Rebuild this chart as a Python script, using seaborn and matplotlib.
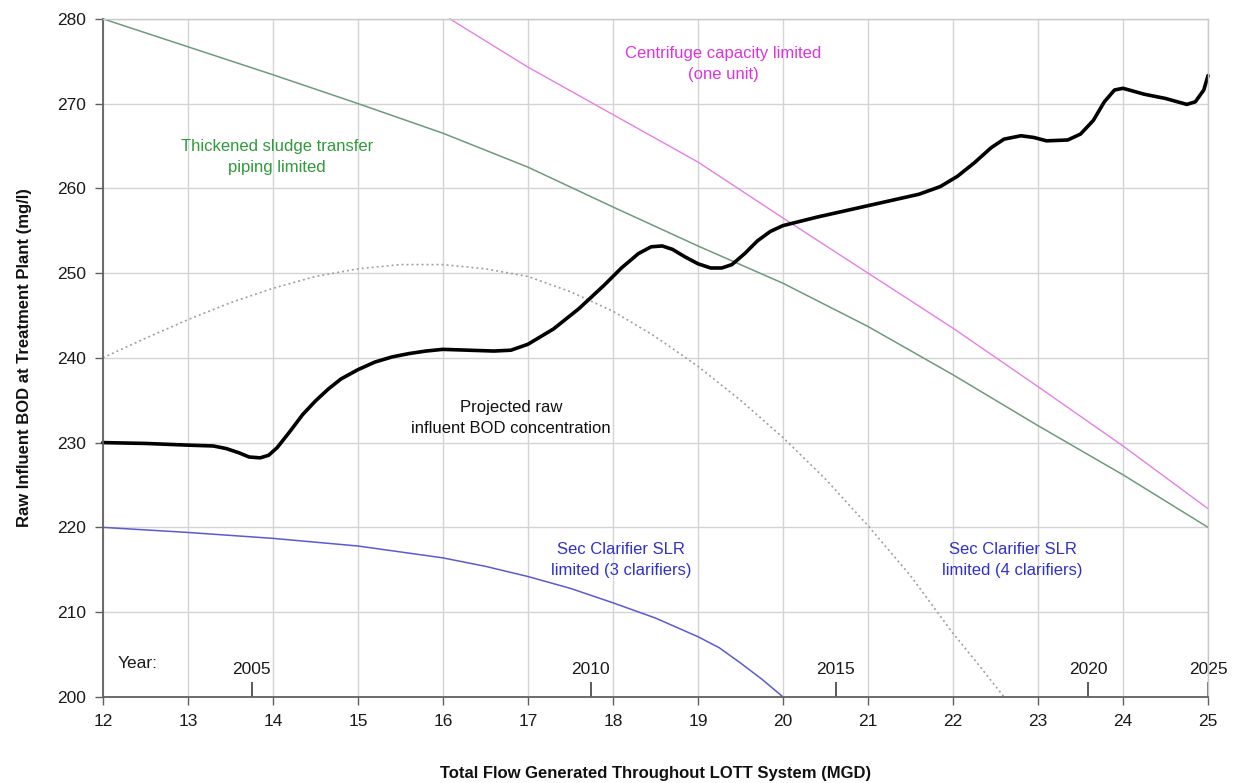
import matplotlib
matplotlib.use("Agg")
import matplotlib.pyplot as plt
import seaborn as sns
import pandas as pd

# Projected raw influent BOD concentration
bod_flow = [12.0, 12.5, 13.0, 13.3, 13.45, 13.6, 13.72, 13.85, 13.95, 14.05, 14.2, 14.35,
            14.5, 14.65, 14.8, 15.0, 15.2, 15.4, 15.6, 15.8, 16.0, 16.3, 16.6, 16.8, 17.0,
            17.3, 17.6, 17.9, 18.1, 18.3, 18.45, 18.58, 18.7, 18.85, 19.0, 19.15, 19.28,
            19.4, 19.55, 19.7, 19.85, 20.0, 20.2, 20.4, 20.8, 21.2, 21.6, 21.85, 22.05,
            22.25, 22.45, 22.6, 22.8, 22.95, 23.1, 23.35, 23.5, 23.65, 23.78, 23.9, 24.0,
            24.25, 24.5, 24.75, 24.85, 24.95, 25.0]
bod_conc = [230.0, 229.9, 229.7, 229.6, 229.3, 228.8, 228.3, 228.2, 228.5, 229.4, 231.3,
            233.3, 234.9, 236.3, 237.5, 238.6, 239.5, 240.1, 240.5, 240.8, 241.0, 240.9,
            240.8, 240.9, 241.6, 243.4, 245.8, 248.6, 250.6, 252.3, 253.1, 253.2, 252.8,
            251.9, 251.1, 250.6, 250.6, 251.0, 252.3, 253.8, 254.9, 255.6, 256.1, 256.6,
            257.5, 258.4, 259.3, 260.2, 261.4, 263.0, 264.8, 265.8, 266.2, 266.0, 265.6,
            265.7, 266.4, 268.0, 270.2, 271.6, 271.8, 271.1, 270.6, 269.9, 270.2, 271.6,
            273.3]

# Thickened sludge transfer piping limit
pipe_flow = [12, 13, 14, 15, 16, 17, 18, 19, 20, 21, 22, 23, 24, 25]
pipe_bod = [280.0, 276.7, 273.4, 270.0, 266.5, 262.5, 257.8, 253.2, 248.8, 243.7,
            238.0, 232.0, 226.2, 220.0]

# Centrifuge capacity limit (one unit)
cent_flow = [16.08, 17, 18, 19, 20, 21, 22, 23, 24, 25]
cent_bod = [280.0, 274.3, 268.7, 263.1, 256.5, 250.0, 243.5, 236.6, 229.6, 222.2]

# Secondary clarifier SLR limit, 3 clarifiers
sec3_flow = [12, 13, 14, 15, 16, 16.5, 17, 17.5, 18, 18.5, 19, 19.25, 19.5, 19.75, 20]
sec3_bod = [220.0, 219.4, 218.7, 217.8, 216.4, 215.4, 214.2, 212.8, 211.1, 209.3,
            207.1, 205.8, 204.0, 202.1, 200.0]

# Secondary clarifier SLR limit, 4 clarifiers
sec4_flow = [12.0, 12.5, 13.0, 13.5, 14.0, 14.5, 15.0, 15.5, 16.0, 16.5, 17.0, 17.5,
             18.0, 18.5, 19.0, 19.5, 20.0, 20.5, 21.0, 21.5, 22.0, 22.3, 22.6]
sec4_bod = [240.0, 242.3, 244.5, 246.5, 248.2, 249.6, 250.5, 251.0, 251.0, 250.5,
            249.6, 247.8, 245.5, 242.5, 239.0, 235.0, 230.6, 225.7, 220.2, 214.3,
            207.5, 203.8, 200.0]

# Year markers along the flow axis
year_flow = [13.75, 17.74, 20.62, 23.59, 25.0]
year_labels = ["2005", "2010", "2015", "2020", "2025"]

x_ticks = list(range(12, 26))
y_ticks = list(range(200, 281, 10))

sns.set_theme(style="whitegrid")
plt.rcParams["font.family"] = ["Liberation Sans", "DejaVu Sans"]

fig = plt.figure(figsize=(12.39, 7.83), dpi=100)
ax = fig.add_axes([0.083, 0.110, 0.892, 0.866])

series = [
    (pipe_flow, pipe_bod, "#6e9a7c", 1.1, "-"),
    (cent_flow, cent_bod, "#e77ee3", 1.0, "-"),
    (sec3_flow, sec3_bod, "#5a5ad2", 1.1, "-"),
    (sec4_flow, sec4_bod, "#a0a0a0", 1.2, (0, (1.2, 1.8))),
    (bod_flow, bod_conc, "#000000", 2.6, "-"),
]
for fx, fy, color, lw, ls in series:
    df = pd.DataFrame({"flow": fx, "bod": fy})
    sns.lineplot(data=df, x="flow", y="bod", ax=ax, color=color, linewidth=lw,
                 linestyle=ls, sort=False, estimator=None, clip_on=False)

ax.set_xlim(12, 25)
ax.set_ylim(200, 280)
ax.set_xticks(x_ticks)
ax.set_yticks(y_ticks)
ax.grid(True, color="#d4d4d4", linewidth=1.0)
ax.set_facecolor("white")
for side in ["top", "right"]:
    ax.spines[side].set_color("#c8c8c8")
    ax.spines[side].set_linewidth(1.0)
for side in ["left", "bottom"]:
    ax.spines[side].set_color("#606060")
    ax.spines[side].set_linewidth(1.3)
ax.tick_params(axis="both", which="major", direction="out", length=6, width=1.0,
               color="#606060", labelsize=12.5, labelcolor="#1a1a1a", pad=6,
               bottom=True, left=True)

ax.set_xlabel("Total Flow Generated Throughout LOTT System (MGD)", fontsize=12,
              fontweight="bold", color="#111111", labelpad=27)
ax.set_ylabel("Raw Influent BOD at Treatment Plant (mg/l)", fontsize=12,
              fontweight="bold", color="#111111", labelpad=18)

# Year scale drawn on the inside of the flow axis
sec = ax.secondary_xaxis("bottom")
sec.set_xticks(year_flow, labels=year_labels)
sec.tick_params(direction="in", length=11, width=1.2, color="#404040",
                labelsize=12.5, labelcolor="#1a1a1a", pad=-25)
sec.spines["bottom"].set_visible(False)
ax.text(12.17, 203.9, "Year:", fontsize=12.5, color="#1a1a1a", ha="left", va="center")

ax.text(19.3, 274.7, "Centrifuge capacity limited\n(one unit)", color="#dd33dd",
        fontsize=12, ha="center", va="center", linespacing=1.5)
ax.text(14.05, 263.7, "Thickened sludge transfer\npiping limited", color="#2e9a3a",
        fontsize=12, ha="center", va="center", linespacing=1.5)
ax.text(16.8, 232.9, "Projected raw\ninfluent BOD concentration", color="#111111",
        fontsize=12, ha="center", va="center", linespacing=1.5)
ax.text(18.1, 216.1, "Sec Clarifier SLR\nlimited (3 clarifiers)", color="#3030cc",
        fontsize=12, ha="center", va="center", linespacing=1.5)
ax.text(22.7, 216.1, "Sec Clarifier SLR\nlimited (4 clarifiers)", color="#3030cc",
        fontsize=12, ha="center", va="center", linespacing=1.5)

fig.savefig("out.png", dpi=100, facecolor="white")
